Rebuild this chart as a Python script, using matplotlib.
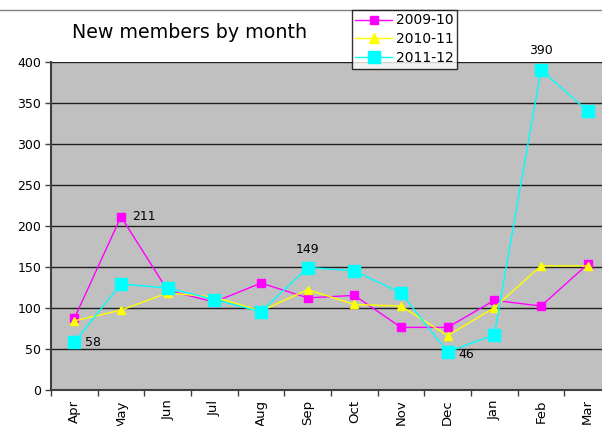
import matplotlib.pyplot as plt
from matplotlib.lines import Line2D

# Data
months = ['Apr', 'May', 'Jun', 'Jul', 'Aug', 'Sep', 'Oct', 'Nov', 'Dec', 'Jan', 'Feb', 'Mar']
y2009_10 = [87, 211, 121, 107, 130, 112, 115, 76, 76, 109, 102, 153]
y2010_11 = [84, 97, 118, 113, 96, 122, 104, 102, 66, 100, 151, 151]
y2011_12 = [58, 129, 124, 110, 95, 149, 145, 118, 46, 67, 390, 340]

plt.rcParams['font.family'] = ['DejaVu Sans']

fig = plt.figure(figsize=(6.02, 4.26), dpi=100)
fig.patch.set_facecolor('white')
ax = fig.add_axes([51 / 602, 1 - 389.7 / 426, 560 / 602, 328 / 426])
ax.set_facecolor('#C0C0C0')

x = list(range(len(months)))
ax.plot(x, y2009_10, color='#FF00FF', marker='s', markersize=5.5, linewidth=1, label='2009-10', zorder=3)
ax.plot(x, y2010_11, color='#FFFF00', marker='^', markersize=6, linewidth=1, label='2010-11', zorder=4)
ax.plot(x, y2011_12, color='#00FFFF', marker='s', markersize=8.5, linewidth=1, label='2011-12', zorder=5)

# Data labels
labels = [(1, y2009_10[1], 8, 0, 'left', 'center'),
          (0, y2011_12[0], 8, 0, 'left', 'center'),
          (5, y2011_12[5], 0, 8, 'center', 'bottom'),
          (8, y2011_12[8], 8, -2, 'left', 'center'),
          (10, y2011_12[10], 0, 9, 'center', 'bottom')]
for xi, yi, dx, dy, ha, va in labels:
    ax.annotate(str(yi), (xi, yi), xytext=(dx, dy), textcoords='offset points',
                ha=ha, va=va, fontsize=9, color='black')

ax.set_xlim(-0.5, 11.5)
ax.set_ylim(0, 400)
ax.set_yticks(range(0, 401, 50))
ax.set_xticks(x)
ax.set_xticklabels(months, rotation=90, fontsize=9.5)
ax.set_xticks([i - 0.5 for i in range(13)], minor=True)
ax.tick_params(axis='x', which='major', length=0, pad=7)
ax.tick_params(axis='x', which='minor', length=4, width=1, color='#404040')
ax.tick_params(axis='y', labelsize=9, length=4, width=1, color='#404040', pad=3)

ax.grid(axis='y', color='#202020', linewidth=1)
ax.set_axisbelow(True)
for s in ['top', 'right']:
    ax.spines[s].set_visible(False)
for s in ['left', 'bottom']:
    ax.spines[s].set_color('#404040')
    ax.spines[s].set_linewidth(1.5)

fig.text(190 / 602, 1 - 33 / 426, 'New members by month', fontsize=13.7, ha='center', va='center')

leg = fig.legend(loc='upper left', bbox_to_anchor=(352 / 602, 1 - 10 / 426),
                 fontsize=10, frameon=True, fancybox=False, edgecolor='black',
                 borderpad=0.25, labelspacing=0.35, handlelength=2.6, handletextpad=0.3,
                 borderaxespad=0, markerscale=1.1)
leg.get_frame().set_linewidth(1)

# chart border line at top
fig.add_artist(Line2D([0, 1], [1 - 9.5 / 426, 1 - 9.5 / 426], color='#808080', linewidth=1))

fig.savefig('out.png', dpi=100)
